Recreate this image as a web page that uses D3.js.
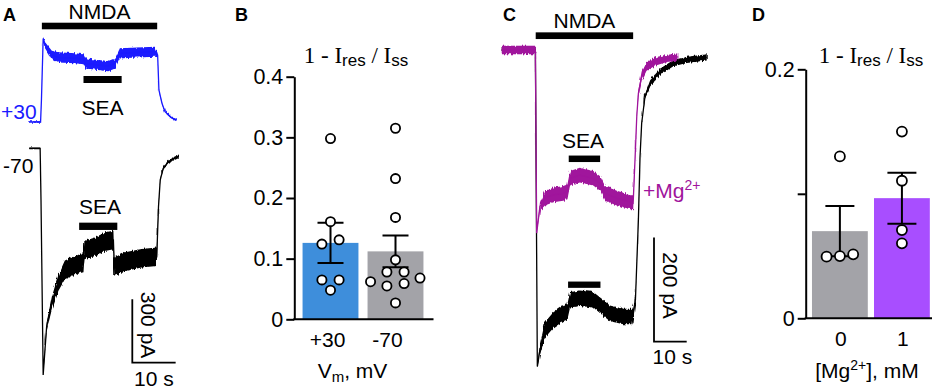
<!DOCTYPE html>
<html><head><meta charset="utf-8">
<script src="https://cdn.jsdelivr.net/npm/d3@7"></script>
<style>
body{margin:0;background:#fff}
svg{display:block}
text{font-family:"Liberation Sans",Arial,sans-serif;fill:#000}
</style>
</head><body>
<svg id="fig" width="941" height="390"></svg>
<script>
// ---------- DATA ----------
// Current traces: [time (s), current (pA), noise half-amplitude (pA)]
const traceA_plus30 = [[0,0,3],[2.6,0,3],[2.8,104,2],[3.2,396,8],[3.6,365,14],[5.2,317,20],[6.7,306,24],[10.6,302,24],[12.5,297,24],[12.9,278,24],[15.9,270,24],[18.2,265,24],[19.8,278,24],[20.9,325,24],[23.6,328,24],[29.0,333,24],[29.6,317,10],[29.9,152,3],[30.6,89,5],[31.3,49,5],[32.9,18,5],[34.0,9,5]];
const traceA_minus70 = [[0,0,4],[2.5,0,4],[2.7,-245,2],[3.2,-1074,4],[4.0,-845,20],[5.2,-733,30],[6.7,-638,38],[8.2,-576,44],[10.6,-553,44],[12.5,-543,44],[12.7,-482,44],[15.2,-466,44],[17.5,-442,44],[19.4,-434,44],[19.6,-561,44],[22.1,-537,44],[25.9,-521,44],[29.4,-514,44],[29.8,-277,8],[30.2,-150,7],[30.9,-95,7],[32.1,-63,7],[34.4,-40,7]];
const traceC_ctrl = [[0,0,4],[10.3,0,4],[10.9,-607,2],[11.7,-575,10],[13.2,-537,15],[15.8,-518,15],[18.8,-505,15],[20.1,-502,15],[20.9,-479,15],[23.9,-476,15],[28.0,-479,15],[30.6,-492,15],[33.1,-505,15],[37.2,-511,15],[40.0,-511,15],[40.9,-479,4],[41.8,-326,2],[42.3,-205,2],[42.8,-141,3],[43.8,-90,4],[45.4,-64,6],[48.4,-42,6],[52.5,-25,6],[56.6,-19,6],[62.7,-14,6]];
const traceC_mg = [[0,0,8],[10.3,0,8],[10.7,-351,2],[11.7,-300,8],[13.2,-284,14],[15.8,-278,14],[18.8,-275,14],[20.1,-272,14],[20.9,-246,14],[23.9,-240,14],[28.0,-246,14],[30.1,-256,14],[31.6,-275,14],[35.2,-284,14],[39.2,-291,14],[40.2,-294,14],[40.8,-205,4],[41.3,-128,5],[41.8,-83,7],[42.8,-51,8],[44.3,-32,8],[46.9,-22,8],[50.5,-16,7],[54.0,-13,7]];
// application bars (start, end in s)
const nmdaA = [2.9, 29.5], seaA_top = [12.5, 21.3], seaA_bot = [11.5, 20.3];
const nmdaC = [10.4, 40.2], seaC_top = [20.5, 30.1], seaC_bot = [20.3, 30.2];
const scaleBarA = [10, 300], scaleBarC = [10, 200]; // s, pA

// Panel B
const catB = ["+30", "-70"];
const meanB = [0.126, 0.112];
const semB = [0.033, 0.026];
const ptsB = [
  [0.298, 0.161, 0.124, 0.131, 0.065, 0.065, 0.048],
  [0.315, 0.232, 0.168, 0.098, 0.078, 0.078, 0.062, 0.055, 0.059, 0.068, 0.027]
];
const jitB = [
  [0, 0, -1, 1, -1, 1, 0],
  [0, 0, 0, 0, -1, 1, -2.9, -1, 1, 2.85, 0]
];
const ticksB = [0, 0.1, 0.2, 0.3, 0.4];

// Panel D
const catD = ["0", "1"];
const meanD = [0.070, 0.0965];
const semD = [0.0202, 0.0205];
const ptsD = [
  [0.130, 0.0495, 0.050, 0.0514],
  [0.150, 0.1105, 0.0709, 0.0602]
];
const jitD = [
  [0, -1.33, 0, 1.33],
  [0, 0, 0, 0]
];
const ticksD = [0, 0.1, 0.2];

// ---------- STYLE ----------
const colBlueTrace = "#1a1aff", colMag = "#a0149c";
const barColB = ["#3e8edb", "#a3a3a8"];
const barColD = ["#a3a3a8", "#a84eff"];
const FS = 21;

const svg = d3.select("#fig");
const defs = svg.append("defs");
const flt = defs.append("filter").attr("id","noise").attr("filterUnits","userSpaceOnUse")
  .attr("x",0).attr("y",0).attr("width",941).attr("height",390);
flt.append("feTurbulence").attr("type","fractalNoise").attr("baseFrequency","0.9 0.06").attr("numOctaves",2).attr("seed",3).attr("result","t");
flt.append("feDisplacementMap").attr("in","SourceGraphic").attr("in2","t").attr("scale",4)
  .attr("xChannelSelector","R").attr("yChannelSelector","G");

function txt(g, x, y, s, opt={}) {
  const t = g.append("text").attr("x", x).attr("y", y).text(s)
    .attr("font-size", opt.size || FS).attr("text-anchor", opt.anchor || "middle");
  if (opt.fill) t.style("fill", opt.fill);
  if (opt.weight) t.attr("font-weight", opt.weight);
  return t;
}
function drawTrace(g, data, x, y, color) {
  const area = d3.area().x(d => x(d[0])).y0(d => y(d[1] - d[2])).y1(d => y(d[1] + d[2]));
  g.append("path").datum(data).attr("d", area).attr("fill", color).attr("filter","url(#noise)");
  const line = d3.line().x(d => x(d[0])).y(d => y(d[1]));
  g.append("path").datum(data).attr("d", line).attr("fill", "none").attr("stroke", color).attr("stroke-width", 1.3);
}
function hbar(g, x, se, yPix, h) {
  g.append("rect").attr("x", x(se[0])).attr("width", x(se[1]) - x(se[0]))
    .attr("y", yPix - h/2).attr("height", h).attr("fill", "#000");
}

// ---------- PANEL A ----------
const gA = svg.append("g");
const xA = d3.scaleLinear().domain([0, 34.6]).range([29.3, 179.3]);
const yA1 = d3.scaleLinear().domain([0, 300]).range([122, 122 - 63.33]);
const yA2 = d3.scaleLinear().domain([0, -300]).range([148.3, 148.3 + 63.33]);
drawTrace(gA, traceA_plus30, xA, yA1, colBlueTrace);
drawTrace(gA, traceA_minus70, xA, yA2, "#000");
hbar(gA, xA, nmdaA, 26, 6.6);
hbar(gA, xA, seaA_top, 79.5, 7);
hbar(gA, xA, seaA_bot, 226.3, 7.3);
txt(gA, 3, 21, "A", {anchor: "start", weight: "bold", size: 18});
txt(gA, (xA(nmdaA[0]) + xA(nmdaA[1])) / 2, 19, "NMDA", {size: 21});
txt(gA, 102.5, 115, "SEA", {size: 21});
txt(gA, 100, 214, "SEA", {size: 21});
txt(gA, 1, 119.3, "+30", {anchor: "start", fill: colBlueTrace, size: 21});
txt(gA, 3, 173.3, "-70", {anchor: "start", size: 21});
// scale bar A
{
  const x0 = 132.3, y0 = 362.7;
  const w = xA(scaleBarA[0]) - xA(0), h = yA2(-scaleBarA[1]) - yA2(0);
  gA.append("path").attr("d", `M${x0},${y0 - h}V${y0}H${x0 + w}`).attr("fill","none").attr("stroke","#000").attr("stroke-width",1.8);
  txt(gA, x0 + w/2, 386, scaleBarA[0] + " s", {size: 21});
  txt(gA, 0, 0, scaleBarA[1] + " pA", {size: 21}).attr("transform", `translate(${x0 + 9},${y0 - h/2 - 6}) rotate(90)`);
}

// ---------- PANEL C ----------
const gC = svg.append("g");
const xC = d3.scaleLinear().domain([0, 63]).range([501.7, 501.7 + 3.27 * 63]);
const yC = d3.scaleLinear().domain([0, -200]).range([50, 50 + 104.3]);
drawTrace(gC, traceC_ctrl, xC, yC, "#000");
drawTrace(gC, traceC_mg, xC, yC, colMag);
hbar(gC, xC, nmdaC, 35.7, 6.7);
hbar(gC, xC, seaC_top, 158.8, 6.5);
hbar(gC, xC, seaC_bot, 284.7, 6.3);
txt(gC, 503, 21, "C", {anchor: "start", weight: "bold", size: 18});
txt(gC, (xC(nmdaC[0]) + xC(nmdaC[1])) / 2, 28, "NMDA", {size: 21});
txt(gC, 583, 148.3, "SEA", {size: 21});
{
  const t = txt(gC, 643, 198.3, "+Mg", {anchor: "start", fill: colMag, size: 21});
  t.append("tspan").attr("dy", -8).attr("font-size", 14).text("2+");
}
{
  const x0 = 654, y0 = 341.7;
  const w = xC(scaleBarC[0]) - xC(0), h = yC(-scaleBarC[1]) - yC(0);
  gC.append("path").attr("d", `M${x0},${y0 - h}V${y0}H${x0 + w}`).attr("fill","none").attr("stroke","#000").attr("stroke-width",1.8);
  txt(gC, x0 + w/2 + 2, 364, scaleBarC[0] + " s", {size: 21});
  txt(gC, 0, 0, scaleBarC[1] + " pA", {size: 21}).attr("transform", `translate(${x0 + 9},${y0 - h/2 - 4}) rotate(90)`);
}

// ---------- BAR PANELS ----------
function title(g, cx, y) {
  const t = g.append("text").attr("x", cx).attr("y", y).attr("text-anchor", "middle")
    .style("font-family", '"Liberation Serif","Times New Roman",serif').attr("font-size", 23);
  t.append("tspan").text("1 - I");
  t.append("tspan").attr("dy", 3).style("font-family", '"Liberation Sans",Arial,sans-serif').attr("font-size", 17).text("res");
  t.append("tspan").attr("dy", -3).text(" / I");
  t.append("tspan").attr("dy", 3).style("font-family", '"Liberation Sans",Arial,sans-serif').attr("font-size", 17).text("ss");
}
function barPanel(o) {
  const g = svg.append("g");
  const y = d3.scaleLinear().domain(o.ydom).range(o.yrange);
  const x = d3.scaleBand().domain(o.cats).range(o.xrange).paddingInner(o.pi).paddingOuter(o.po);
  g.selectAll("rect.bar").data(o.cats).join("rect").attr("class","bar")
    .attr("x", d => x(d)).attr("width", x.bandwidth())
    .attr("y", (d,i) => y(o.mean[i])).attr("height", (d,i) => y(0) - y(o.mean[i]))
    .attr("fill", (d,i) => o.colors[i]);
  o.cats.forEach((c, i) => {
    const cx = x(c) + x.bandwidth()/2;
    const top = y(o.mean[i] + o.sem[i]), bot = y(o.mean[i] - o.sem[i]);
    g.append("path").attr("d", `M${cx},${top}V${bot}M${cx - o.cap},${top}H${cx + o.cap}M${cx - o.cap},${bot}H${cx + o.cap}`)
      .attr("stroke", "#000").attr("stroke-width", 2).attr("fill","none");
  });
  o.cats.forEach((c, i) => {
    const cx = x(c) + x.bandwidth()/2;
    g.selectAll(null).data(o.pts[i]).join("circle")
      .attr("cx", (d,j) => cx + o.jit[i][j] * o.spacing).attr("cy", d => y(d)).attr("r", o.r)
      .attr("fill", "#fff").attr("stroke", "#000").attr("stroke-width", 1.8);
  });
  const ax = d3.axisLeft(y).tickValues(o.ticks).tickSize(8).tickPadding(3).tickSizeOuter(0)
    .tickFormat(o.fmt);
  const ag = g.append("g").attr("transform", `translate(${o.xaxis0},0)`).call(ax);
  ag.select(".domain").attr("stroke-width", 2);
  ag.selectAll(".tick line").attr("stroke-width", 2);
  ag.selectAll(".tick text").attr("font-size", 21.5).style("font-family", '"Liberation Sans",Arial,sans-serif');
  g.append("line").attr("x1", o.xaxis0 - 1).attr("x2", o.xaxisEnd).attr("y1", y(0)).attr("y2", y(0))
    .attr("stroke", "#000").attr("stroke-width", 2);
  o.cats.forEach((c, i) => {
    txt(g, x(c) + x.bandwidth()/2 + o.labDx[i], y(0) + 28, c, {size: 21});
  });
  return g;
}

const gB = barPanel({
  cats: catB, mean: meanB, sem: semB, pts: ptsB, jit: jitB, ticks: ticksB,
  ydom: [0, 0.4], yrange: [319.3, 76.7], xrange: [298, 428], pi: 0.14, po: 0.07,
  colors: barColB, cap: 13, r: 4.6, spacing: 8.6, xaxis0: 294.3, xaxisEnd: 433.5,
  fmt: d => d === 0 ? "0" : d3.format(".1f")(d), labDx: [-3, -8]
});
txt(gB, 235, 21, "B", {anchor: "start", weight: "bold", size: 18});
title(gB, 356, 63);
{
  const t = txt(gB, 352.5, 378, "V", {size: 21});
  t.append("tspan").attr("dy", 4).attr("font-size", 15).text("m");
  t.append("tspan").attr("dy", -4).text(", mV");
}

const gD = barPanel({
  cats: catD, mean: meanD, sem: semD, pts: ptsD, jit: jitD, ticks: ticksD,
  ydom: [0, 0.2], yrange: [318.3, 69.3], xrange: [809, 932.8], pi: 0.1, po: 0.048,
  colors: barColD, cap: 14.5, r: 5, spacing: 10, xaxis0: 805.7, xaxisEnd: 932,
  fmt: d => d === 0 ? "0" : (d === 0.2 ? "0.2" : ""), labDx: [1, 1]
});
txt(gD, 752, 21, "D", {anchor: "start", weight: "bold", size: 18});
title(gD, 871, 62.7);
{
  const t = txt(gD, 867, 378.3, "[Mg", {size: 21});
  t.append("tspan").attr("dy", -8).attr("font-size", 14).text("2+");
  t.append("tspan").attr("dy", 8).text("], mM");
}
</script>
</body></html>
